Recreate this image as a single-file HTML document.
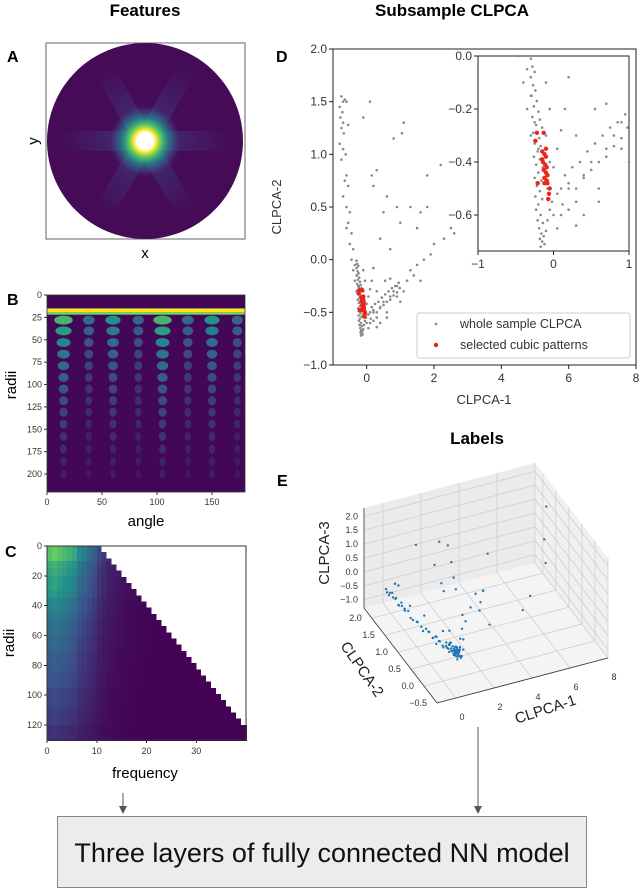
<!DOCTYPE html>
<html><head><meta charset="utf-8"><style>
html,body{margin:0;padding:0;background:#fff;}
svg{display:block;font-family:"Liberation Sans",sans-serif;}
</style></head><body>
<svg id="fig" width="640" height="889" viewBox="0 0 640 889" xmlns="http://www.w3.org/2000/svg">
<defs>
<radialGradient id="ctr" cx="0.5" cy="0.5" r="0.5">
<stop offset="0" stop-color="#ffffff"/><stop offset="0.22" stop-color="#ffffff"/><stop offset="0.3" stop-color="#fde725"/><stop offset="0.42" stop-color="#5ec962"/><stop offset="0.6" stop-color="#21918c" stop-opacity="0.8"/><stop offset="0.8" stop-color="#3b528b" stop-opacity="0.5"/><stop offset="1" stop-color="#450b57" stop-opacity="0"/></radialGradient>
<linearGradient id="spk" x1="0" x2="1" y1="0" y2="0"><stop offset="0" stop-color="#3b528b" stop-opacity="0"/><stop offset="0.3" stop-color="#3b528b" stop-opacity="0.35"/><stop offset="0.5" stop-color="#2c728e" stop-opacity="0.6"/><stop offset="0.7" stop-color="#3b528b" stop-opacity="0.35"/><stop offset="1" stop-color="#3b528b" stop-opacity="0"/></linearGradient>
<clipPath id="circ"><circle cx="145" cy="141" r="98"/></clipPath>
<clipPath id="bclip"><rect x="47" y="295" width="198" height="197"/></clipPath>
</defs>
<text x="145" y="16" text-anchor="middle" font-size="17" font-weight="bold">Features</text>
<text x="452" y="16" text-anchor="middle" font-size="17" font-weight="bold">Subsample CLPCA</text>
<text x="477" y="444" text-anchor="middle" font-size="17" font-weight="bold">Labels</text>
<text x="7" y="62" font-size="16" font-weight="bold">A</text>
<text x="7" y="305" font-size="16" font-weight="bold">B</text>
<text x="5" y="557" font-size="16" font-weight="bold">C</text>
<text x="276" y="62" font-size="16" font-weight="bold">D</text>
<text x="277" y="486" font-size="16" font-weight="bold">E</text>

<g>
<rect x="46" y="43" width="199" height="196" fill="#fff" stroke="#666"/>
<circle cx="145" cy="141" r="98" fill="#450b57"/>
<g clip-path="url(#circ)">
<rect x="60" y="131" width="170" height="20" fill="url(#spk)" transform="rotate(0 145 141)"/>
<rect x="60" y="131" width="170" height="20" fill="url(#spk)" transform="rotate(60 145 141)"/>
<rect x="60" y="131" width="170" height="20" fill="url(#spk)" transform="rotate(120 145 141)"/>
<circle cx="145" cy="141" r="38" fill="url(#ctr)"/>
</g>
<text x="145" y="258" text-anchor="middle" font-size="15">x</text>
<text x="38" y="141" text-anchor="middle" font-size="15" transform="rotate(-90 38 141)">y</text>
</g>

<g id="pb"></g>
<text x="146" y="526" text-anchor="middle" font-size="15">angle</text>
<text x="16" y="385" text-anchor="middle" font-size="15" transform="rotate(-90 16 385)">radii</text>

<g id="pc" shape-rendering="crispEdges"></g>
<text x="145" y="778" text-anchor="middle" font-size="15">frequency</text>
<text x="14" y="643" text-anchor="middle" font-size="15" transform="rotate(-90 14 643)">radii</text>

<g id="pd"></g>
<text x="484" y="404" text-anchor="middle" font-size="13" fill="#333">CLPCA-1</text>
<text x="281" y="207" text-anchor="middle" font-size="13" fill="#333" transform="rotate(-90 281 207)">CLPCA-2</text>

<g id="pe"></g>

<g>
<line x1="123" y1="793" x2="123" y2="808" stroke="#555"/>
<polygon points="119,806 127,806 123,814" fill="#555"/>
<line x1="478" y1="727" x2="478" y2="808" stroke="#555"/>
<polygon points="474,806 482,806 478,814" fill="#555"/>
</g>
<rect x="57.5" y="816.5" width="529" height="71" fill="#ececec" stroke="#888"/>
<text x="322" y="862" text-anchor="middle" font-size="27" fill="#111">Three layers of fully connected NN model</text>
</svg>
<script>
const NS='http://www.w3.org/2000/svg';
function mk(parent,tag,attrs,txt){const e=document.createElementNS(NS,tag);for(const k in attrs)e.setAttribute(k,attrs[k]);if(txt!==undefined)e.textContent=txt;parent.appendChild(e);return e;}
function viridis(t){t=Math.max(0,Math.min(1,t));const s=[[68,1,84],[59,82,139],[33,145,140],[94,201,98],[253,231,37]];const p=t*4,i=Math.min(3,Math.floor(p)),f=p-i;const c=s[i].map((v,k)=>Math.round(v+(s[i+1][k]-v)*f));return 'rgb('+c.join(',')+')';}

// ---------- Panel D data ----------
const grayX=[-0.75,-0.7,-0.8,-0.65,-0.72,-0.78,-0.7,-0.6,-0.75,-0.68,-0.55,-0.8,-0.7,-0.62,-0.75,-0.6,-0.65,-0.55,-0.7,-0.6,-0.5,-0.55,-0.6,-0.45,-0.5,-0.4,-0.45,-0.35,-0.4,-0.3,-0.35,-0.25,-0.3,-0.2,
0.2,0.4,0.5,0.7,0.8,0.9,1.0,1.2,1.4,1.5,1.7,1.9,2.0,2.3,2.6,1.1,0.6,0.3,1.3,1.6,0.9,
0.2,0.5,1.0,1.3,1.6,0.6,1.1,1.05,0.8,0.1,-0.1,0.15,1.8,2.2,0.3,1.5,0.4,0.7,2.5,1.8,0.9,
-0.3,-0.28,-0.25,-0.3,-0.27,-0.24,-0.29,-0.22,-0.26,-0.2,-0.28,-0.18,-0.23,-0.15,-0.27,-0.19,-0.25,-0.17,-0.21,-0.26,-0.18,-0.23,-0.14,-0.2,-0.25,-0.16,-0.22,-0.18,-0.24,-0.15,-0.2,-0.23,-0.17,-0.21,-0.14,-0.19,-0.16,-0.13,-0.18,-0.15,-0.12,-0.17,-0.1,-0.08,-0.05,-0.02,0.0,0.05,0.1,0.12,0.15,0.2,0.25,0.3,0.35,0.4,0.45,0.5,0.55,0.6,0.65,0.7,0.75,0.8,0.85,0.9,0.95,0.98,-0.1,0.05,0.1,0.0,-0.05,0.1,0.2,0.3,0.05,-0.08,-0.1,0.2,0.4,0.55,0.6,0.7,-0.05,0.3,0.15];
const grayY=[1.55,1.5,1.45,1.52,1.4,1.35,1.3,1.5,1.25,1.2,1.28,1.1,1.05,1.0,0.95,0.8,0.75,0.7,0.6,0.5,0.45,0.35,0.3,0.25,0.15,0.1,0.0,-0.05,-0.1,-0.15,-0.2,-0.25,-0.3,-0.35,
-0.5,-0.45,-0.4,-0.35,-0.3,-0.25,-0.4,-0.2,-0.15,-0.05,0.0,0.05,0.15,0.2,0.25,-0.3,-0.5,-0.55,-0.1,-0.2,-0.35,
0.7,0.45,0.35,0.5,0.45,0.6,1.3,1.2,1.15,1.5,1.35,0.8,0.8,0.9,0.85,0.3,0.2,0.1,0.3,0.5,0.5,
-0.01,-0.04,-0.06,-0.08,-0.11,-0.13,-0.15,-0.17,-0.19,-0.21,-0.23,-0.24,-0.26,-0.27,-0.29,-0.31,-0.33,-0.34,-0.36,-0.38,-0.39,-0.41,-0.42,-0.44,-0.46,-0.47,-0.49,-0.51,-0.53,-0.54,-0.56,-0.58,-0.6,-0.62,-0.63,-0.65,-0.67,-0.68,-0.69,-0.7,-0.71,-0.72,-0.66,-0.62,-0.58,-0.55,-0.6,-0.52,-0.5,-0.56,-0.45,-0.48,-0.42,-0.5,-0.4,-0.46,-0.36,-0.43,-0.33,-0.4,-0.3,-0.38,-0.27,-0.34,-0.25,-0.31,-0.22,-0.27,-0.3,-0.35,-0.28,-0.42,-0.2,-0.6,-0.58,-0.64,-0.65,-0.5,-0.1,-0.08,-0.6,-0.2,-0.55,-0.18,-0.4,-0.3,-0.2];
const redX=[-0.22,-0.13,-0.24,-0.15,-0.12,-0.1,-0.14,-0.11,-0.09,-0.13,-0.1,-0.08,-0.12,-0.09,-0.21,-0.12,-0.08,-0.05,-0.06,-0.07,-0.15,-0.1];
const redY=[-0.29,-0.29,-0.32,-0.36,-0.37,-0.38,-0.4,-0.41,-0.42,-0.43,-0.44,-0.45,-0.46,-0.47,-0.48,-0.48,-0.48,-0.5,-0.52,-0.54,-0.39,-0.35];
const dXTicks=[0,2,4,6,8];
const dYTicks=[-1.0,-0.5,0.0,0.5,1.0,1.5,2.0];
const insetXTicks=[-1,0,1];
const insetYTicks=[0.0,-0.2,-0.4,-0.6];

// ---------- Panel B data ----------
const bAngles=[15,38,60,83,105,128,150,173];
const bAngleW=[1.0,0.5,0.75,0.45,1.0,0.5,0.75,0.45];
const bRadii=[28,40,53,66,79,92,105,118,131,144,158,172,186,200];
const bRadiusW=[0.75,0.62,0.5,0.42,0.36,0.3,0.26,0.22,0.19,0.16,0.13,0.1,0.07,0.05];
const bXTicks=[0,50,100,150];
const bYTicks=[0,25,50,75,100,125,150,175,200];

// ---------- Panel C data ----------
const cColW=[0.85,0.9,0.85,0.8,0.75,0.7,0.55,0.5,0.42,0.35,0.25,0.2,0.15,0.12,0.1,0.08,0.06,0.05,0.04,0.03,0.03,0.02,0.02,0.02,0.01,0.01,0.01,0.01,0.01,0.01,0.01,0.01,0.01,0.01,0.01,0.01,0.01,0.01,0.01,0.01];
const cRowW=[1.0,1.0,0.85,0.8,0.75,0.75,0.7,0.62,0.6,0.55,0.5,0.5,0.45,0.45,0.4,0.4,0.38,0.35,0.35,0.3,0.3,0.28,0.25,0.25,0.2,0.2];
const cXTicks=[0,10,20,30];
const cYTicks=[0,20,40,60,80,100,120];

// ---------- Panel E data ----------
const eX=[-0.8,-0.78,-0.75,-0.72,-0.7,-0.68,-0.65,-0.6,-0.55,-0.5,-0.45,-0.4,-0.35,-0.3,-0.25,-0.2,-0.15,-0.1,-0.05,0.0,0.05,0.1,-0.1,0.0,0.1,0.2,-0.05,0.05,0.15,0.25,-0.1,0.0,0.1,0.2,0.3,0.0,0.1,0.2,0.3,0.5,0.8,1.0,1.3,1.6,2.0,2.4,2.8,3.2,3.5,0.6,1.2,1.8,2.5,1.0,2.0,3.0,4.0,5.0,6.5,7.5,7.8,0.5,1.5,2.2,3.0,4.2,-0.6,-0.7,-0.5,-0.3,0.2,0.4,-0.2,0.0,0.3,0.1,
-0.82,-0.8,-0.78,-0.76,-0.74,-0.72,-0.7,-0.66,-0.62,-0.58,-0.52,-0.48,-0.42,-0.38,-0.32,-0.28,-0.22,-0.18,-0.12,-0.08,-0.02,0.02,0.08,0.12,0.18,0.22,0.28,0.35,0.4,0.45,0.0,0.05,0.1,0.15,0.2,0.25,0.3,0.35,0.15,0.25];
const eY=[1.6,1.5,1.4,1.3,1.2,1.1,1.0,0.8,0.6,0.4,0.2,0.1,0.0,-0.1,-0.2,-0.3,-0.35,-0.4,-0.45,-0.5,-0.4,-0.45,-0.3,-0.35,-0.3,-0.4,-0.5,-0.45,-0.5,-0.35,-0.2,-0.25,-0.4,-0.45,-0.5,-0.3,-0.2,-0.3,-0.4,-0.3,-0.2,0.0,0.2,0.3,0.4,0.5,0.6,0.8,1.0,0.5,1.2,0.9,1.5,0.7,1.6,2.0,1.2,0.3,0.8,1.5,1.8,1.4,0.6,0.2,0.4,0.0,1.4,1.2,0.9,0.5,-0.1,-0.3,0.1,0.0,-0.2,-0.4,
1.55,1.45,1.35,1.25,1.15,1.05,0.95,0.85,0.7,0.55,0.45,0.3,0.25,0.1,0.05,-0.05,-0.15,-0.25,-0.3,-0.38,-0.42,-0.48,-0.38,-0.44,-0.36,-0.46,-0.3,-0.4,-0.35,-0.45,-0.55,-0.52,-0.5,-0.42,-0.48,-0.4,-0.45,-0.38,-0.55,-0.5];
const eZ=[0.2,0.1,0.3,0.2,0.1,0.3,0.2,0.1,0.2,0.1,0.3,0.2,0.1,0.3,0.2,0.3,0.2,0.3,0.2,0.3,0.35,0.25,0.4,0.2,0.3,0.35,0.25,0.15,0.3,0.2,0.35,0.3,0.2,0.25,0.15,0.45,0.3,0.1,0.2,0.5,0.3,0.4,0.6,0.2,0.5,0.8,0.3,0.4,0.1,1.5,1.2,1.0,0.7,0.9,1.4,0.6,1.1,0.5,0.8,1.8,0.2,1.8,1.0,0.6,-0.3,0.5,0.6,0.8,0.4,0.5,0.6,0.1,0.2,0.5,0.0,0.4,
0.15,0.25,0.2,0.3,0.15,0.25,0.2,0.3,0.15,0.25,0.2,0.3,0.25,0.2,0.3,0.25,0.2,0.3,0.25,0.35,0.2,0.3,0.25,0.35,0.2,0.3,0.25,0.35,0.2,0.3,0.15,0.2,0.25,0.3,0.15,0.2,0.1,0.2,0.25,0.1];
const eXTicks=[0,2,4,6,8];
const eYTicks=[-0.5,0.0,0.5,1.0,1.5,2.0];
const eZTicks=[-1.0,-0.5,0.0,0.5,1.0,1.5,2.0];

// ===== Panel B =====
(function(){
const g=document.getElementById('pb');
const bx=v=>47+v*198/180, by=v=>295+v*197/220;
const clip=mk(g,'g',{'clip-path':'url(#bclip)'});
const bg=mk(clip,'rect',{x:47,y:295,width:198,height:197,fill:viridis(0.02)});


for(let j=0;j<bRadii.length;j++){for(let i=0;i<bAngles.length;i++){
 const v=bAngleW[i]*bRadiusW[j];
 const e=mk(clip,'ellipse',{cx:bx(bAngles[i]),cy:by(bRadii[j]),rx:Math.max(2.5,9*v+2.5),ry:4.5,fill:viridis(v*0.8+0.05)});
 
 
}}
const band=mk(clip,'rect',{x:47,y:by(15),width:198,height:by(19)-by(15),fill:viridis(1)});


const band2=mk(clip,'rect',{x:47,y:by(19),width:198,height:by(22)-by(19),fill:viridis(0.8)});


const fr=mk(g,'rect',{x:47,y:295,width:198,height:197,fill:'none',stroke:'#333','stroke-width':0.8});


bXTicks.forEach(t=>{mk(g,'line',{x1:bx(t),x2:bx(t),y1:492,y2:495,stroke:'#333'});
 const tx=mk(g,'text',{x:bx(t),y:505,'text-anchor':'middle','font-size':9,fill:'#333'},String(t));
 
 });
bYTicks.forEach(t=>{mk(g,'line',{x1:44,x2:47,y1:by(t),y2:by(t),stroke:'#333'});
 const tx=mk(g,'text',{x:42,y:by(t)+3,'text-anchor':'end','font-size':9,fill:'#333'},String(t));
 
 });
})();

// ===== Panel C =====
(function(){
const g=document.getElementById('pc');
const cx=v=>47+v*199/40, cy=v=>546+v*194/130;
for(let r=0;r<cRowW.length;r++){for(let c=0;c<cColW.length;c++){
 const v=cColW[c]*cRowW[r];
 const cell=mk(g,'rect',{x:cx(c),y:cy(r*5),width:cx(c+1)-cx(c)+1,height:cy(r*5+5)-cy(r*5)+1,fill:viridis(v*0.85)});
 
 
}}
for(let c=10;c<40;c++){
 const rr=(c-10)/0.242;
 const w=mk(g,'rect',{x:cx(c),y:cy(0),width:cx(c+1)-cx(c)+1,height:cy(rr)-cy(0),fill:'#fff'});
 
 
}
const fr=mk(g,'rect',{x:47,y:546,width:199,height:194,fill:'none',stroke:'#333','stroke-width':0.8});


cXTicks.forEach(t=>{mk(g,'line',{x1:cx(t),x2:cx(t),y1:740,y2:743,stroke:'#333'});
 const tx=mk(g,'text',{x:cx(t),y:754,'text-anchor':'middle','font-size':9,fill:'#333'},String(t));
 
 });
cYTicks.forEach(t=>{mk(g,'line',{x1:44,x2:47,y1:cy(t),y2:cy(t),stroke:'#333'});
 const tx=mk(g,'text',{x:42,y:cy(t)+3,'text-anchor':'end','font-size':9,fill:'#333'},String(t));
 
 });
})();

// ===== Panel D =====
(function(){
const g=document.getElementById('pd');
const xs=v=>333+(v+1)*303/9, ys=v=>365-(v+1)*316/3;
const xi=v=>478+(v+1)*151/2, yi=v=>56-v*265;
const fr=mk(g,'rect',{x:333,y:49,width:303,height:316,fill:'#fff',stroke:'#222','stroke-width':1});


for(let i=0;i<grayX.length;i++){
 const p=mk(g,'circle',{cx:xs(grayX[i]),cy:ys(grayY[i]),r:1.3,fill:'#8a8a8a'});
 
 }
for(let i=0;i<redX.length;i++){
 const p=mk(g,'circle',{cx:xs(redX[i]),cy:ys(redY[i]),r:2.2,fill:'#e8261a'});
 
 }
dXTicks.forEach(t=>{mk(g,'line',{x1:xs(t),x2:xs(t),y1:365,y2:369,stroke:'#222'});
 const tx=mk(g,'text',{x:xs(t),y:382,'text-anchor':'middle','font-size':12,fill:'#333'},String(t));
 
 });
dYTicks.forEach(t=>{mk(g,'line',{x1:329,x2:333,y1:ys(t),y2:ys(t),stroke:'#222'});
 const tx=mk(g,'text',{x:327,y:ys(t)+4,'text-anchor':'end','font-size':12,fill:'#333'},t.toFixed(1).replace('-','\u2212'));
 
 });
const inset=mk(g,'rect',{x:478,y:56,width:151,height:195,fill:'#fff',stroke:'#222','stroke-width':1});


for(let i=0;i<grayX.length;i++){
 if(grayX[i]<-1||grayX[i]>1||grayY[i]>0||grayY[i]<-0.735)continue;
 const p=mk(g,'circle',{cx:xi(grayX[i]),cy:yi(grayY[i]),r:1.3,fill:'#8a8a8a'});
 
 }
for(let i=0;i<redX.length;i++){
 const p=mk(g,'circle',{cx:xi(redX[i]),cy:yi(redY[i]),r:2.2,fill:'#e8261a'});
 
 }
insetXTicks.forEach(t=>{mk(g,'line',{x1:xi(t),x2:xi(t),y1:251,y2:255,stroke:'#222'});
 const tx=mk(g,'text',{x:xi(t),y:268,'text-anchor':'middle','font-size':12,fill:'#333'},String(t).replace('-','\u2212'));
 
 });
insetYTicks.forEach(t=>{mk(g,'line',{x1:474,x2:478,y1:yi(t),y2:yi(t),stroke:'#222'});
 const tx=mk(g,'text',{x:472,y:yi(t)+4,'text-anchor':'end','font-size':12,fill:'#333'},t.toFixed(1).replace('-','\u2212'));
 
 });
const lg=mk(g,'rect',{x:417,y:313,width:213,height:45,fill:'#fff',stroke:'#ccc',rx:2});


mk(g,'circle',{cx:436,cy:324,r:1.3,fill:'#8a8a8a'});
const l1=mk(g,'text',{x:460,y:328,'font-size':12.5,fill:'#333'},'whole sample CLPCA');


mk(g,'circle',{cx:436,cy:345,r:2.2,fill:'#e8261a'});
const l2=mk(g,'text',{x:460,y:349,'font-size':12.5,fill:'#333'},'selected cubic patterns');


})();

// ===== Panel E =====
(function(){
const g=document.getElementById('pe');
const X0=-1,X1=8,Y0=-0.5,Y1=2.3,Z0=-1.3,Z1=2.3;
const F0=[437,703],F1=[608,658],F2=[364,608],H=100;
function P(x,y,z){const a=(x-X0)/(X1-X0),b=(y-Y0)/(Y1-Y0),c=(z-Z0)/(Z1-Z0);
 return [F0[0]+a*(F1[0]-F0[0])+b*(F2[0]-F0[0]), F0[1]+a*(F1[1]-F0[1])+b*(F2[1]-F0[1])-c*H];}
function poly(pts,fill,name){const p=mk(g,'polygon',{points:pts.map(q=>q.join(',')).join(' '),fill:fill,stroke:'none'});
 
 }
poly([P(X0,Y0,Z0),P(X1,Y0,Z0),P(X1,Y1,Z0),P(X0,Y1,Z0)],'#f4f4f4','floor-pane');
poly([P(X0,Y1,Z0),P(X1,Y1,Z0),P(X1,Y1,Z1),P(X0,Y1,Z1)],'#ebebeb','back-pane');
poly([P(X1,Y0,Z0),P(X1,Y1,Z0),P(X1,Y1,Z1),P(X1,Y0,Z1)],'#f0f0f0','side-pane');
function ln(a,b,col,name){const l=mk(g,'line',{x1:a[0],y1:a[1],x2:b[0],y2:b[1],stroke:col,'stroke-width':0.8});
 
 }
eXTicks.forEach(t=>{ln(P(t,Y0,Z0),P(t,Y1,Z0),'#cfcfcf','grid-line');ln(P(t,Y1,Z0),P(t,Y1,Z1),'#cfcfcf','grid-line');});
eYTicks.forEach(t=>{ln(P(X0,t,Z0),P(X1,t,Z0),'#cfcfcf','grid-line');ln(P(X1,t,Z0),P(X1,t,Z1),'#cfcfcf','grid-line');});
eZTicks.forEach(t=>{ln(P(X0,Y1,t),P(X1,Y1,t),'#cfcfcf','grid-line');ln(P(X1,Y1,t),P(X1,Y0,t),'#cfcfcf','grid-line');});
ln(P(X0,Y0,Z0),P(X1,Y0,Z0),'#333','x-axis-line');
ln(P(X0,Y0,Z0),P(X0,Y1,Z0),'#333','y-axis-line');
ln(P(X0,Y1,Z0),P(X0,Y1,Z1),'#333','z-axis-line');
for(let i=0;i<eX.length;i++){const q=P(eX[i],eY[i],eZ[i]);
 const c=mk(g,'circle',{cx:q[0],cy:q[1],r:1.2,fill:'#1f77b4'});
 
 }
eXTicks.forEach(t=>{const q=P(t,Y0,Z0);
 const tx=mk(g,'text',{x:q[0]+6,y:q[1]+22,'text-anchor':'middle','font-size':9,fill:'#333'},String(t));
 
 });
eYTicks.forEach(t=>{const q=P(X0,t,Z0);
 const tx=mk(g,'text',{x:q[0]-10,y:q[1]+3,'text-anchor':'end','font-size':9,fill:'#333'},t.toFixed(1).replace('-','\u2212'));
 
 });
eZTicks.forEach(t=>{const q=P(X0,Y1,t);
 const tx=mk(g,'text',{x:q[0]-6,y:q[1]+3,'text-anchor':'end','font-size':9,fill:'#333'},t.toFixed(1).replace('-','\u2212'));
 
 });
const a1=mk(g,'text',{x:547,y:714,'text-anchor':'middle','font-size':15,fill:'#222',transform:'rotate(-18 547 714)'},'CLPCA-1');


const a2=mk(g,'text',{x:358,y:672,'text-anchor':'middle','font-size':15,fill:'#222',transform:'rotate(55 358 672)'},'CLPCA-2');


const a3=mk(g,'text',{x:329,y:553,'text-anchor':'middle','font-size':15,fill:'#222',transform:'rotate(-90 329 553)'},'CLPCA-3');


})();
</script>
</body></html>
